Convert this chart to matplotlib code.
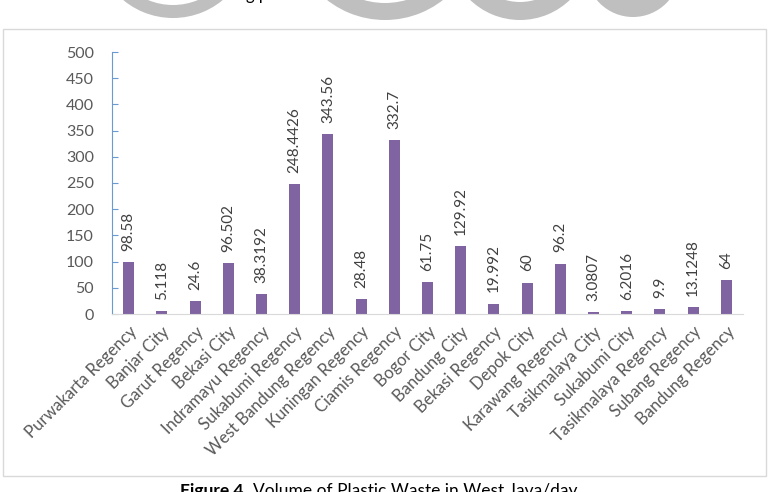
import matplotlib
matplotlib.use('Agg')
import matplotlib.pyplot as plt
from matplotlib.patches import Rectangle, Circle, Wedge
import numpy as np

# data
regions = ['Purwakarta Regency', 'Banjar City', 'Garut Regency', 'Bekasi City',
           'Indramayu Regency', 'Sukabumi Regency', 'West Bandung Regency',
           'Kuningan Regency', 'Ciamis Regency', 'Bogor City', 'Bandung City',
           'Bekasi Regency', 'Depok City', 'Karawang Regency', 'Tasikmalaya City',
           'Sukabumi City', 'Tasikmalaya Regency', 'Subang Regency', 'Bandung Regency']
waste = [98.58, 5.118, 24.6, 96.502, 38.3192, 248.4426, 343.56, 28.48, 332.7,
         61.75, 129.92, 19.992, 60, 96.2, 3.0807, 6.2016, 9.9, 13.1248, 64]
value_labels = ['98.58', '5.118', '24.6', '96.502', '38.3192', '248.4426', '343.56',
                '28.48', '332.7', '61.75', '129.92', '19.992', '60', '96.2',
                '3.0807', '6.2016', '9.9', '13.1248', '64']
yticks = [0, 50, 100, 150, 200, 250, 300, 350, 400, 450, 500]

plt.rcParams['font.family'] = ['Lato', 'DejaVu Sans']

W, H = 783, 492
fig = plt.figure(figsize=(W / 100, H / 100), dpi=100)
fig.patch.set_facecolor('white')


def fx(px):
    return px / W


def fy(py):
    return 1 - py / H


# chart frame
fig.patches.append(Rectangle((fx(3), fy(476)), fx(766) - fx(3), fy(29) - fy(476),
                             transform=fig.transFigure, fill=False,
                             edgecolor='#D9D9D9', linewidth=1.0))

# watermark remnants cut by the top edge (pixel coords, y down)
wm = '#BFBFBF'


def ring(cx, cy, r_out, r_in):
    if r_in > 0:
        p = Wedge((cx, H - cy), r_out, 0, 360, width=r_out - r_in,
                  transform=None, facecolor=wm, edgecolor='none')
    else:
        p = Circle((cx, H - cy), r_out, transform=None, facecolor=wm, edgecolor='none')
    fig.patches.append(p)


ring(173, -60, 78, 65)
ring(385, -74, 94, 77)
ring(520, -52, 72, 54)
ring(633, -30, 47, 0)
fig.text(fx(246), 1.0, 'g p', fontsize=12, color='black', ha='left', va='baseline')

ax = fig.add_axes([fx(112), fy(314), fx(743) - fx(112), fy(52) - fy(314)])
x = np.arange(len(regions))
bars = ax.bar(x, waste, width=0.33, color='#8064A2')

for xi, v, lab in zip(x, waste, value_labels):
    ax.annotate(lab, (xi, v), xytext=(0, 8), textcoords='offset points',
                rotation=90, ha='center', va='bottom', fontsize=11, color='#404040')

ax.set_xlim(-0.5, len(regions) - 0.5)
ax.set_ylim(0, 500)
ax.set_yticks(yticks)
ax.set_xticks(x)
ax.set_xticklabels(regions, rotation=45, ha='right', va='top', rotation_mode='anchor',
                   fontsize=12, color='#595959')
ax.tick_params(axis='x', length=0, pad=7)
ax.tick_params(axis='y', direction='in', length=4, color='#6A9AD0', labelsize=11.5,
               labelcolor='#595959', pad=13)
for s in ['top', 'right']:
    ax.spines[s].set_visible(False)
ax.spines['left'].set_color('#6A9AD0')
ax.spines['bottom'].set_color('#D9D9D9')

# caption, bold lead-in then regular text
fig.canvas.draw()
r = fig.canvas.get_renderer()
t1 = fig.text(fx(180), fy(496), 'Figure 4.', fontsize=12.5, fontweight='bold',
              ha='left', va='baseline', color='black')
bb = t1.get_window_extent(renderer=r)
fig.text(bb.x1 / W + fx(5), fy(496), 'Volume of Plastic Waste in West Java/day',
         fontsize=12.5, ha='left', va='baseline', color='black')

fig.savefig('out.png', dpi=100)
